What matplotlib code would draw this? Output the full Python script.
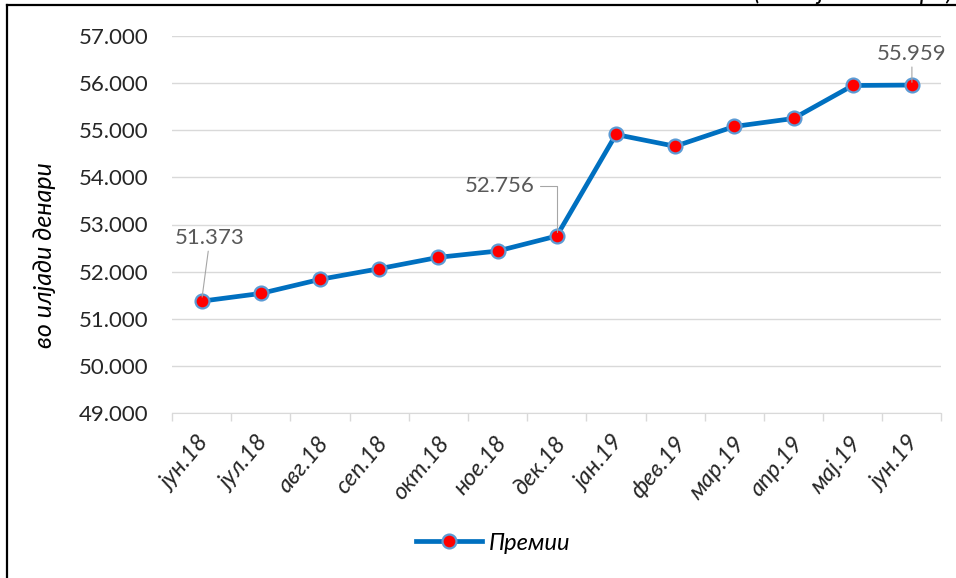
import matplotlib
matplotlib.use('Agg')
import matplotlib.pyplot as plt
from matplotlib.lines import Line2D

# податоци
months = ['јун.18', 'јул.18', 'авг.18', 'сеп.18', 'окт.18', 'ное.18', 'дек.18',
          'јан.19', 'фев.19', 'мар.19', 'апр.19', 'мај.19', 'јун.19']
premii = [51.373, 51.537, 51.835, 52.062, 52.303, 52.437, 52.756,
          54.91, 54.66, 55.08, 55.25, 55.95, 55.959]
yticks = [49, 50, 51, 52, 53, 54, 55, 56, 57]

plt.rcParams['font.family'] = ['Lato', 'DejaVu Sans']

fig = plt.figure(figsize=(9.56, 5.78), dpi=100)
ax = fig.add_axes([172 / 956, 1 - 413 / 578, (941.5 - 172) / 956, (413 - 36) / 578])

x = list(range(len(months)))
ax.plot(x, premii, color='#0070C0', lw=3.4, marker='o', ms=10,
        mfc='#FF0000', mec='#5B9BD5', mew=1.6, label='Премии', zorder=3)

ax.set_xlim(-0.5, len(months) - 0.5)
ax.set_ylim(49, 57)
ax.set_yticks(yticks)
ax.set_yticklabels([f'{v}.000' for v in yticks], fontsize=16, color='#262626')
ax.yaxis.grid(True, color='#D9D9D9', lw=1)
ax.set_axisbelow(True)
ax.tick_params(axis='y', length=0, pad=17)

# натписи по x-оската (рачно, десниот крај под категоријата како во Excel)
ax.set_xticks(x)
ax.set_xticklabels([])
for i, m in enumerate(months):
    ax.annotate(m, xy=(i, 0), xycoords=('data', 'axes fraction'), xytext=(-12, -14),
                textcoords='offset points', rotation=50, ha='center', va='top',
                fontsize=17, style='italic', color='#262626')
ax.set_xticks([i - 0.5 for i in range(len(months) + 1)], minor=True)
ax.tick_params(axis='x', which='major', length=0)
ax.tick_params(axis='x', which='minor', length=6, color='#D9D9D9', width=1)

for s in ['top', 'right', 'left']:
    ax.spines[s].set_visible(False)
ax.spines['bottom'].set_color('#D9D9D9')

# ознаки на вредности со водилки
lab = dict(fontsize=16, color='#595959', zorder=4)
ax.annotate('51.373', xy=(0, premii[0]), xytext=(6, 38), textcoords='offset points',
            ha='center', va='bottom', arrowprops=dict(arrowstyle='-', color='#A6A6A6',
            lw=0.8, shrinkA=0, shrinkB=3), **lab)
ax.annotate('52.756', xy=(6, premii[6]), xytext=(-41, 36), textcoords='offset points',
            ha='center', va='center', arrowprops=dict(arrowstyle='-', color='#A6A6A6',
            lw=0.8, shrinkA=2, shrinkB=3, connectionstyle='angle,angleA=0,angleB=90,rad=0'),
            **lab)
ax.annotate('55.959', xy=(12, premii[12]), xytext=(0, 15), textcoords='offset points',
            ha='center', va='bottom', arrowprops=dict(arrowstyle='-', color='#A6A6A6',
            lw=0.8, shrinkA=0, shrinkB=2), **lab)

fig.text(45 / 956, 1 - 255 / 578, 'во илјади денари', rotation=90, ha='center',
         va='center', fontsize=18, style='italic', color='#000000')

# текст исечен на врвот
fig.text(953 / 956, 1.0, '(во илјади денари)', ha='right', va='baseline',
         fontsize=18, style='italic', color='#000000')

leg = fig.legend(loc='center', bbox_to_anchor=(493 / 956, 1 - 543 / 578), frameon=False,
                 prop={'size': 17, 'style': 'italic'}, handlelength=2.8,
                 handletextpad=0.3)

# рамка (лево и горе)
fig.add_artist(Line2D([7 / 956, 7 / 956], [0, 1 - 5 / 578], transform=fig.transFigure,
                      color='black', lw=1.6))
fig.add_artist(Line2D([7 / 956, 1], [1 - 5 / 578, 1 - 5 / 578], transform=fig.transFigure,
                      color='black', lw=1.6))

fig.savefig('out.png', dpi=100)
